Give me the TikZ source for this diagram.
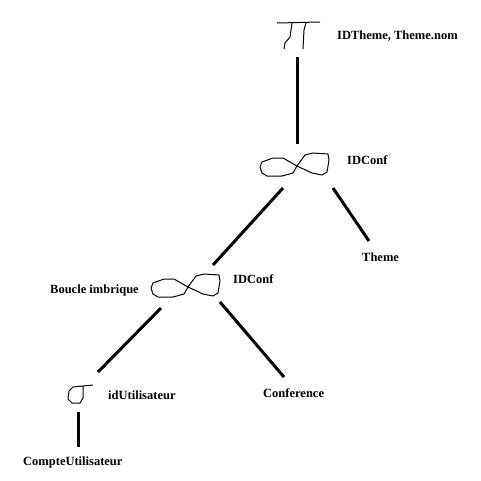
\documentclass[tikz,border=0pt]{standalone}
\usepackage{fontspec}
\setmainfont{Liberation Serif}
\begin{document}
\begin{tikzpicture}[x=1pt,y=-1pt,
  edge/.style={line width=3pt},
  sym/.style={line width=1pt,line join=round},
  lbl/.style={anchor=base west,inner sep=0pt,font=\fontsize{12.5}{15}\selectfont\bfseries}]
\useasboundingbox (0,0) rectangle (481,480);
% --- labels
\node[lbl] (proj) at (337,39) {IDTheme, Theme.nom};
\node[lbl] (j1l) at (347,164) {IDConf};
\node[lbl] (theme) at (362,261) {Theme};
\node[lbl] (j2l) at (233,283) {IDConf};
\node[lbl] (boucle) at (50,293) {Boucle imbrique};
\node[lbl] (sell) at (108,399) {idUtilisateur};
\node[lbl] (conf) at (263,397) {Conference};
\node[lbl] (compte) at (23,465) {CompteUtilisateur};
% --- projection symbol
\draw[sym] (277,23) -- (320,22);
\draw[sym] (292,23) -- (290,37) -- (285,43) -- (284,49);
\draw[sym] (306,23) -- (304,30) -- (303,49);
% --- join symbols
\coordinate (j1) at (297,166);
\coordinate (j2) at (188,287);
\foreach \c in {j1,j2}{
  \draw[sym,shift={(\c)}] (0,0) -- (-14,-8) -- (-24,-8) -- (-35,-4) -- (-37,1) -- (-35,7) -- (-30,10) -- (-15,10) -- (-4,7) -- cycle;
  \draw[sym,shift={(\c)}] (0,0) -- (8,-11) -- (16,-13) -- (31,-12) -- (32,-6) -- (30,6) -- (25,9) -- (15,7) -- cycle;
}
% --- selection symbol
\draw[sym] (93,385) -- (73,387) -- (69,391) -- (68,399) -- (72,403) -- (80,403) -- (83,398) -- (83,386);
% --- connector end points
\coordinate (pb) at (297,57);
\coordinate (j1t) at (297,144);
\coordinate (j1a) at (283,188);
\coordinate (j2t) at (213,265);
\coordinate (j1b) at (333,188);
\coordinate (tht) at (369,241);
\coordinate (j2a) at (161,308);
\coordinate (selt) at (98,372);
\coordinate (j2b) at (220,302);
\coordinate (conft) at (284,377);
\coordinate (selb) at (78,412);
\coordinate (compt) at (78,447);
% --- connectors
\draw[edge] (pb) -- (j1t);
\draw[edge] (j1a) -- (j2t);
\draw[edge] (j1b) -- (tht);
\draw[edge] (j2a) -- (selt);
\draw[edge] (j2b) -- (conft);
\draw[edge] (selb) -- (compt);
\end{tikzpicture}
\end{document}
